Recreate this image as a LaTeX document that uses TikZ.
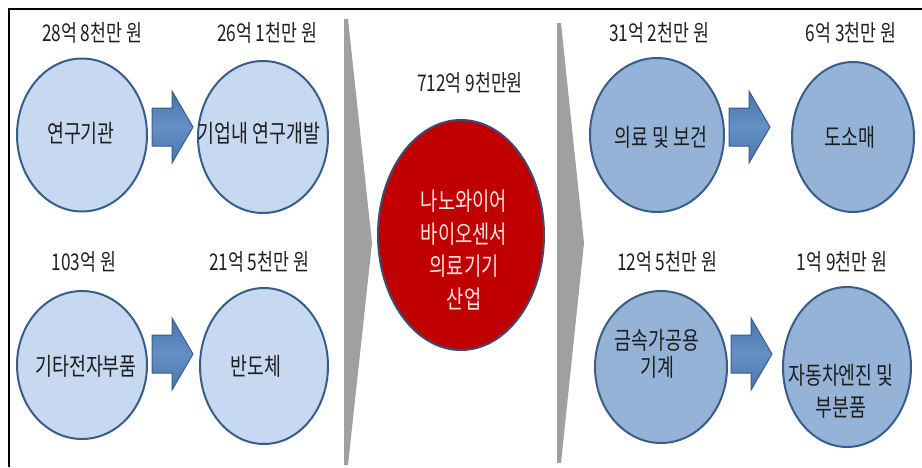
\documentclass[tikz,border=0pt]{standalone}
\usepackage{fontspec}
\setmainfont{Noto Sans CJK KR}[FakeStretch=0.75]
\usetikzlibrary{shapes.geometric}
\definecolor{lblue}{RGB}{198,217,241}
\definecolor{mblue}{RGB}{149,179,215}
\definecolor{edgec}{RGB}{56,93,138}
\definecolor{arrc}{RGB}{79,129,189}
\definecolor{chevc}{RGB}{160,160,160}
\definecolor{redc}{RGB}{192,0,0}
\definecolor{rededge}{RGB}{60,75,110}
\definecolor{txtc}{RGB}{30,30,30}
\definecolor{pinkw}{RGB}{255,228,228}
\newcommand{\blockarr}[2]{\draw[barrow] (#1,#2) +(0,-19) -- +(20,-19) -- +(20,-36) -- +(41,0) -- +(20,36) -- +(20,19) -- +(0,19) -- cycle;}
\begin{document}
\begin{tikzpicture}[x=1pt,y=-1pt,
  circ/.style={ellipse, draw=edgec, line width=2pt, inner sep=0pt},
  lcirc/.style={circ, fill=lblue},
  rcirc/.style={circ, fill=mblue},
  lbl/.style={font=\fontsize{23}{26}\selectfont, text=txtc, inner sep=0pt},
  ctext/.style={font=\fontsize{24.5}{27}\selectfont, text=txtc, align=center, inner sep=0pt},
  barrow/.style={draw=edgec, line width=1pt, top color=arrc!90!black, bottom color=arrc!90!black, middle color=arrc!88!white},
  chevron/.style={fill=chevc, draw=none},
  framel/.style={line width=1.5pt, draw=black}
]
\useasboundingbox (0,0) rectangle (922,467);
% frame
\coordinate (ftr) at (922,9);
\coordinate (ftl) at (9,9);
\coordinate (fbl) at (9,467);
\draw[framel] (ftr) -- (ftl) -- (fbl);
% chevrons
\fill[chevron] (344,19) -- (348,19) -- (372,243) -- (348,465) -- (344,465) -- cycle;
\fill[chevron] (557,23) -- (561,23) -- (584,243) -- (561,463) -- (557,463) -- cycle;
% left side
\node[lcirc, minimum width=130, minimum height=153] (A) at (82,135) {};
\node[lcirc, minimum width=130, minimum height=152] (B) at (263,137) {};
\node[lcirc, minimum width=130, minimum height=148] (C) at (82,365) {};
\node[lcirc, minimum width=128, minimum height=156] (D) at (264,366) {};
\node[ctext] (At) at (81,133) {연구기관};
\node[ctext] (Bt) at (259,133) {기업내 연구개발};
\node[ctext] (Ct) at (86,366) {기타전자부품};
\node[ctext] (Dt) at (256,366) {반도체};
\node[lbl] (Al) at (92,33) {28억 8천만 원};
\node[lbl] (Bl) at (267,33) {26억 1천만 원};
\node[lbl] (Cl) at (84,262) {103억 원};
\node[lbl] (Dl) at (259,262) {21억 5천만 원};
\blockarr{152}{127}
\blockarr{152}{354}
% middle
\node[circ, fill=redc, draw=rededge, minimum width=166, minimum height=230] (M) at (461,235) {};
\node[lbl] (Ml) at (470,83) {712억 9천만원};
\node[font=\fontsize{25}{32.5}\selectfont, text=pinkw, align=center, inner sep=0pt] (Mt) at (464,250) {나노와이어\\바이오센서\\의료기기\\산업};
% right side
\node[rcirc, minimum width=134, minimum height=154] (E) at (657,135) {};
\node[rcirc, minimum width=122, minimum height=150] (F) at (853,137) {};
\node[rcirc, minimum width=132, minimum height=152] (G) at (661,367) {};
\node[rcirc, minimum width=128, minimum height=160] (H) at (847,367) {};
\node[ctext] (Et) at (661,137) {의료 및 보건};
\node[ctext] (Ft) at (850,137) {도소매};
\node[ctext] (Gt) at (657,354) {금속가공용\\기계};
\node[ctext, font=\fontsize{24.5}{32}\selectfont] (Ht) at (841,391) {자동차엔진 및\\부분품};
\node[lbl] (El) at (659,33) {31억 2천만 원};
\node[lbl] (Fl) at (851,33) {6억 3천만 원};
\node[lbl] (Gl) at (667,262) {12억 5천만 원};
\node[lbl] (Hl) at (842,262) {1억 9천만 원};
\blockarr{729}{127}
\blockarr{731}{354}
\end{tikzpicture}
\end{document}
